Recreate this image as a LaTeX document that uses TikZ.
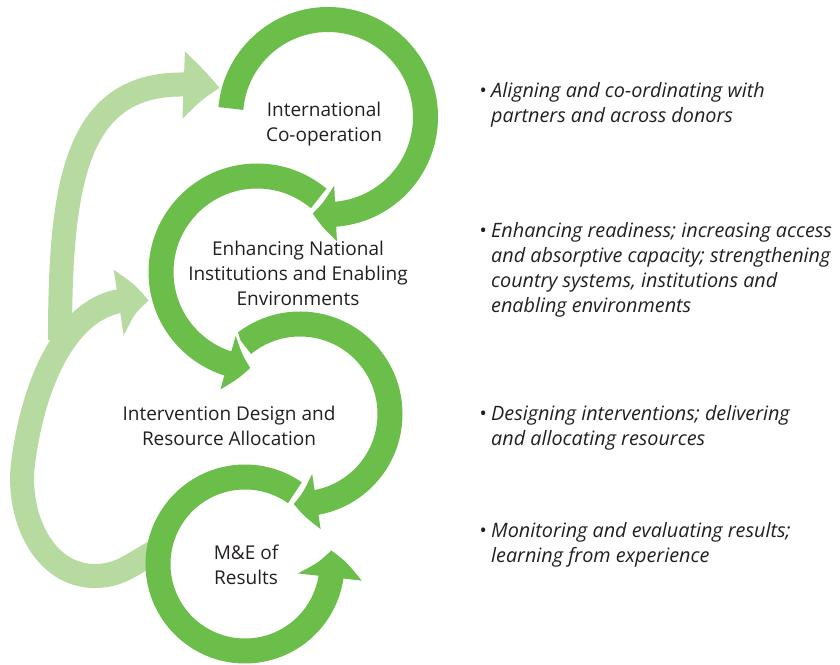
\documentclass[tikz,border=0pt]{standalone}
\usepackage{fontspec}
\setmainfont{Open Sans}
\usetikzlibrary{arrows.meta,bending,positioning,calc}
\definecolor{cyclegreen}{HTML}{6CBE4B}
\definecolor{loopgreen}{HTML}{B6DAA0}
\definecolor{inktext}{HTML}{231F20}
\newcommand{\bul}{\makebox[12pt][l]{\textbullet}}
\newcommand{\hang}{\hspace*{12pt}}

\begin{document}
\begin{tikzpicture}[
  x=1pt, y=1pt,
  ring/.style={line width=25pt, draw=cyclegreen, -{Triangle[length=23pt, width=54pt, bend]}},
  ringhalo/.style={ring, preaction={draw=white, line width=30pt, shorten >=-4pt, -{Triangle[length=31pt, width=72pt, bend]}}},
  feedback/.style={line width=24pt, draw=loopgreen, -{Triangle[length=32pt, width=62pt, bend]}},
  stage/.style={font=\fontsize{19}{25}\selectfont, text=inktext, align=center, inner sep=0pt},
  note/.style={font=\fontsize{19.8}{25}\selectfont\itshape, text=inktext, align=left, anchor=west, inner sep=0pt},
]
\useasboundingbox (0,0) rectangle (840,664);

% centres of the four rings
\coordinate (c1) at (328,547);
\coordinate (c2) at (257,392);
\coordinate (c3) at (300,250);
\coordinate (c4) at (245,100);
\coordinate (split) at (60,324);

% feedback loops, behind the rings
\draw[feedback] ($(c4)+(170:86)$) to[out=205,in=0] (95,88) to[out=180,in=-97] (23,200) to[out=83,in=170] ($(c2)+(195:112)$);
\draw[feedback, -{Triangle[length=38pt, width=63pt, bend]}] (split) .. controls (60,500) and (80,600) .. ($(c1)+(165:112)$);

% the cycle
\draw[ring, -{Triangle[length=27pt, width=62pt, bend]}] (c4) ++(55:87) arc[start angle=55, end angle=369, radius=87];
\draw[ringhalo] (c3) ++(129:90) arc[start angle=129, end angle=-94, radius=90];
\draw[ringhalo] (c2) ++(50:96) arc[start angle=50, end angle=266, radius=96];
\draw[ringhalo] (c1) ++(175:97.5) arc[start angle=175, end angle=-99, radius=97.5];

% stage labels
\node[stage] (coop) at (324,540) {International\\Co-operation};
\node[stage] (national) at (298,391) {Enhancing National\\Institutions and Enabling\\Environments};
\node[stage] (design) at (229,238) {Intervention Design and\\Resource Allocation};
\node[stage] (mande) at (246,99) {M\&E of\\Results};

% notes on the right
\node[note] (n1) at (479,559.5) {\bul Aligning and co-ordinating with\\\hang partners and across donors};
\node[note] (n2) at (479,394.5) {\bul Enhancing readiness; increasing access\\\hang and absorptive capacity; strengthening\\\hang country systems, institutions and\\\hang enabling environments};
\node[note] (n3) at (479,236) {\bul Designing interventions; delivering\\\hang and allocating resources};
\node[note] (n4) at (479,119.5) {\bul Monitoring and evaluating results;\\\hang learning from experience};
\end{tikzpicture}
\end{document}
